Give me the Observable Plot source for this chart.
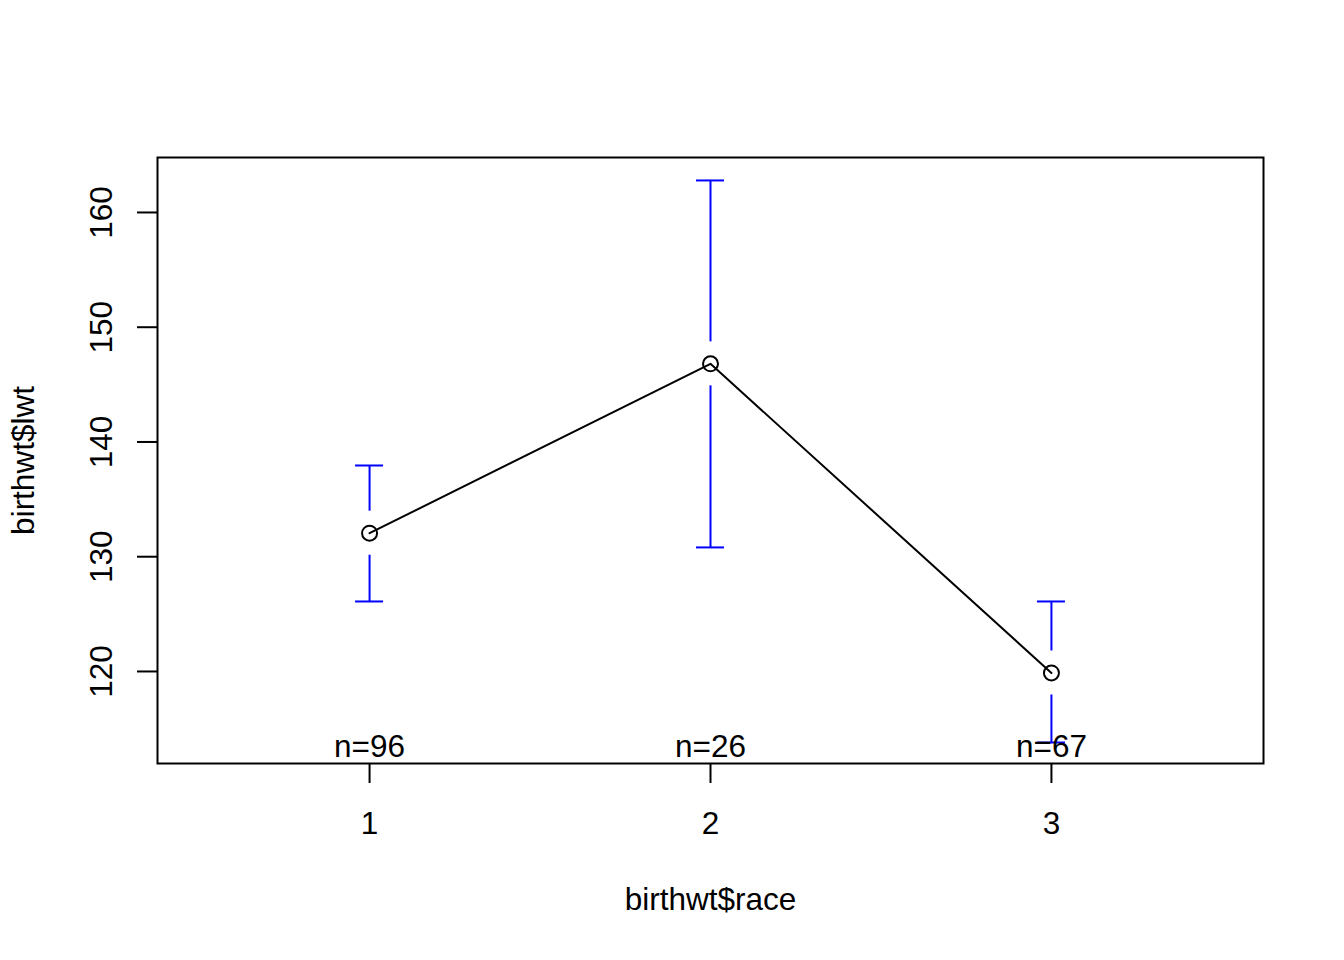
<!DOCTYPE html>
<html>
<head>
<meta charset="utf-8">
<script src="https://cdn.jsdelivr.net/npm/d3@7"></script>
<script src="https://cdn.jsdelivr.net/npm/@observablehq/plot@0.6"></script>
<style>
  html, body { margin: 0; padding: 0; background: #ffffff; }
  #chart svg { display: block; }
</style>
</head>
<body>
<div id="chart"></div>
<script>
// ---- data ----
const races = [1, 2, 3];
const means = [132.05, 146.81, 119.87];
const ciUpper = [137.95, 162.79, 126.10];
const ciLower = [126.10, 130.81, 113.81];
const counts = [96, 26, 67];
const xTicks = [1, 2, 3];
const yTicks = [120, 130, 140, 150, 160];
const xTitle = "birthwt$race";
const yTitle = "birthwt$lwt";

// ---- layout ----
const W = 1344, H = 960;
const mL = 157, mR = 81, mT = 157, mB = 197;
const xDomain = [0.378, 3.622];
const yDomain = [111.98, 164.79];
const FONT = "Liberation Sans, Arial, Helvetica, sans-serif";
const FS = 31.5;

// pixel -> data unit conversions for gap around point and cap width
const pxPerY = (H - mT - mB) / (yDomain[1] - yDomain[0]);
const pxPerX = (W - mL - mR) / (xDomain[1] - xDomain[0]);
const gapY = 22 / pxPerY;
const capX = 14 / pxPerX;

const rows = races.map((r, i) => ({
  race: r, mean: means[i], hi: ciUpper[i], lo: ciLower[i], n: counts[i],
  label: "n=" + counts[i]
}));

const chart = Plot.plot({
  width: W,
  height: H,
  marginLeft: mL,
  marginRight: mR,
  marginTop: mT,
  marginBottom: mB,
  style: {fontFamily: FONT, fontSize: FS + "px", color: "black", background: "white"},
  x: {type: "linear", domain: xDomain},
  y: {type: "linear", domain: yDomain},
  marks: [
    Plot.frame({stroke: "black", strokeWidth: 2}),
    Plot.axisX({ticks: xTicks, tickSize: 20, tickPadding: 28, tickFormat: d => String(d),
      fontSize: FS, strokeWidth: 2, label: null}),
    Plot.axisY({ticks: yTicks, tickSize: 20, tickFormat: () => "", strokeWidth: 2, label: null}),
    // y tick labels, rotated like R
    Plot.text(yTicks, {y: d => d, text: d => String(d), frameAnchor: "left", dx: -46,
      rotate: -90, textAnchor: "middle", lineAnchor: "bottom", fontSize: FS, fill: "black"}),
    // error bars (with gap around the mean point)
    Plot.ruleX(rows, {x: "race", y1: "hi", y2: d => d.mean + gapY, stroke: "#0000ff", strokeWidth: 2}),
    Plot.ruleX(rows, {x: "race", y1: d => d.mean - gapY, y2: "lo", stroke: "#0000ff", strokeWidth: 2}),
    Plot.ruleY(rows, {y: "hi", x1: d => d.race - capX, x2: d => d.race + capX, stroke: "#0000ff", strokeWidth: 2}),
    Plot.ruleY(rows, {y: "lo", x1: d => d.race - capX, x2: d => d.race + capX, stroke: "#0000ff", strokeWidth: 2}),
    // mean line and points
    Plot.line(rows, {x: "race", y: "mean", stroke: "black", strokeWidth: 2}),
    Plot.dot(rows, {x: "race", y: "mean", r: 7.5, stroke: "black", strokeWidth: 2, fill: "none"}),
    // n labels
    Plot.text(rows, {x: "race", text: "label", frameAnchor: "bottom", lineAnchor: "bottom", dy: -7,
      fontSize: FS, fill: "black"}),
    // axis titles
    Plot.text([xTitle], {text: d => d, frameAnchor: "bottom", lineAnchor: "bottom", dy: 146,
      fontSize: FS, fill: "black"}),
    Plot.text([yTitle], {text: d => d, frameAnchor: "left", dx: -124, rotate: -90,
      textAnchor: "middle", lineAnchor: "bottom", fontSize: FS, fill: "black"})
  ]
});

document.getElementById("chart").appendChild(chart);
</script>
</body>
</html>
